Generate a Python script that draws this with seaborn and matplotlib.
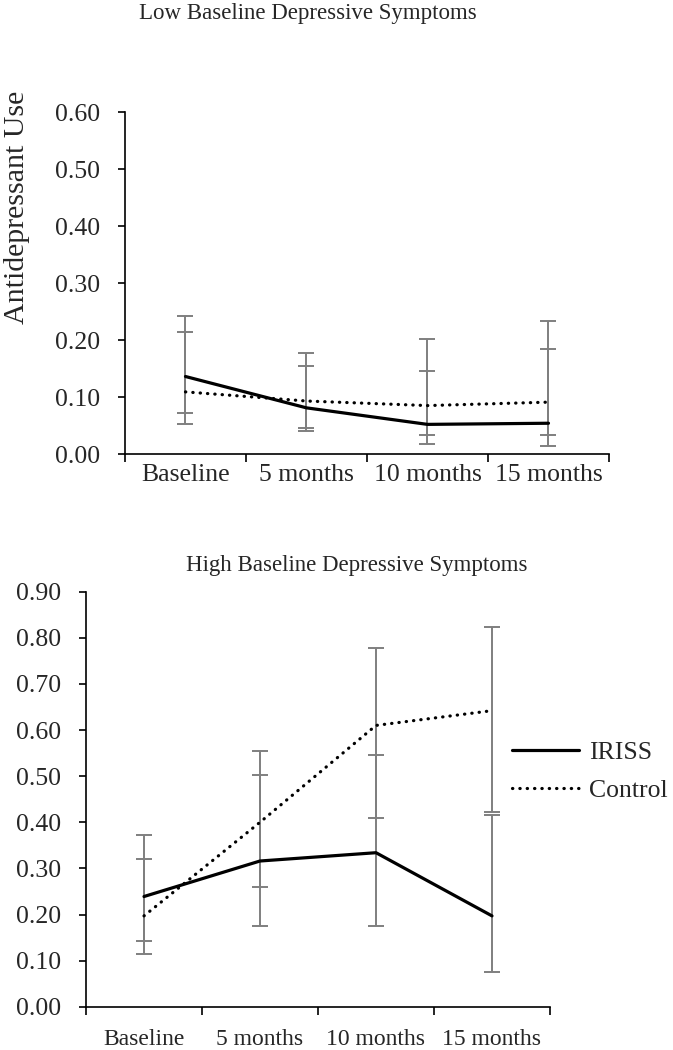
import numpy as np
import pandas as pd
import seaborn as sns
from matplotlib import pyplot as plt
from matplotlib.ticker import FormatStrFormatter, FixedLocator

times = ["Baseline", "5 months", "10 months", "15 months"]
groups = ["IRISS", "Control"]

# low baseline depressive symptoms
low_iriss = [0.136, 0.081, 0.052, 0.054]
low_iriss_lo = [0.052, 0.041, 0.018, 0.014]
low_iriss_hi = [0.242, 0.155, 0.145, 0.184]
low_control = [0.109, 0.093, 0.085, 0.091]
low_control_lo = [0.072, 0.046, 0.033, 0.033]
low_control_hi = [0.214, 0.178, 0.201, 0.233]

# high baseline depressive symptoms
high_iriss = [0.239, 0.316, 0.334, 0.197]
high_iriss_lo = [0.143, 0.175, 0.174, 0.076]
high_iriss_hi = [0.372, 0.503, 0.545, 0.416]
high_control = [0.197, 0.400, 0.610, 0.642]
high_control_lo = [0.114, 0.260, 0.410, 0.423]
high_control_hi = [0.320, 0.555, 0.777, 0.823]

sns.set_style("ticks")
plt.rcParams["font.family"] = ["Liberation Serif", "DejaVu Serif"]

TICK_FS = 18.5
TITLE_FS = 16.5


def draw_panel(ax, iriss, iriss_lo, iriss_hi, control, control_lo, control_hi,
               ymax, show_legend, xlabel_fs, xlabel_pad):
    df = pd.DataFrame({
        "time": times * 2,
        "group": ["IRISS"] * 4 + ["Control"] * 4,
        "value": iriss + control,
    })

    # error bars (grey, behind the lines)
    for vals, lo, hi in [(iriss, iriss_lo, iriss_hi), (control, control_lo, control_hi)]:
        vals = np.array(vals)
        yerr = [vals - np.array(lo), np.array(hi) - vals]
        ax.errorbar(times, vals, yerr=yerr, fmt="none", ecolor="#7f7f7f",
                    elinewidth=1.4, capsize=5.5, capthick=1.4, zorder=1)

    sns.lineplot(
        data=df, x="time", y="value", hue="group", style="group",
        palette={"IRISS": "black", "Control": "black"},
        dashes={"IRISS": "", "Control": (0.1, 2.2)},
        hue_order=groups, style_order=groups,
        linewidth=2.3, dash_capstyle="round", sort=False,
        legend=show_legend, ax=ax, zorder=3,
    )

    ax.set_xlim(-0.5, 3.5)
    ax.set_ylim(0, ymax)
    ax.set_yticks(np.arange(0, ymax + 0.001, 0.1))
    ax.yaxis.set_major_formatter(FormatStrFormatter("%.2f"))
    ax.xaxis.set_minor_locator(FixedLocator(np.arange(-0.5, 3.6, 1.0)))
    ax.tick_params(axis="x", which="major", length=0, labelsize=xlabel_fs, pad=xlabel_pad)
    ax.tick_params(axis="x", which="minor", length=6, width=1.2, color="black")
    ax.tick_params(axis="y", length=5, width=1.2, color="black", labelsize=TICK_FS, pad=13)
    for side in ["top", "right"]:
        ax.spines[side].set_visible(False)
    for side in ["left", "bottom"]:
        ax.spines[side].set_color("black")
        ax.spines[side].set_linewidth(1.2)
    ax.set_xlabel("")
    ax.set_ylabel("")


fig = plt.figure(figsize=(6.73, 10.5), dpi=100)
ax1 = fig.add_axes([0.1857, 0.5676, 0.7192, 0.3257])
ax2 = fig.add_axes([0.1278, 0.0412, 0.6894, 0.3953])

draw_panel(ax1, low_iriss, low_iriss_lo, low_iriss_hi,
           low_control, low_control_lo, low_control_hi, 0.6, False, TICK_FS, 7)
draw_panel(ax2, high_iriss, high_iriss_lo, high_iriss_hi,
           high_control, high_control_lo, high_control_hi, 0.9, True, 17, 16)

ax1.set_ylabel("Antidepressant Use", fontsize=21.5)
ax1.yaxis.set_label_coords(-0.197, 0.722)

fig.text(0.457, 0.9876, "Low Baseline Depressive Symptoms", fontsize=TITLE_FS,
         ha="center", va="center")
fig.text(0.530, 0.4619, "High Baseline Depressive Symptoms", fontsize=TITLE_FS,
         ha="center", va="center")

ax2.legend(title=None, frameon=False, fontsize=TICK_FS, handlelength=2.6,
           handletextpad=0.4, labelspacing=0.6,
           loc="center left", bbox_to_anchor=(0.726, 0.265),
           bbox_transform=fig.transFigure)

fig.savefig("out.png", dpi=100)
